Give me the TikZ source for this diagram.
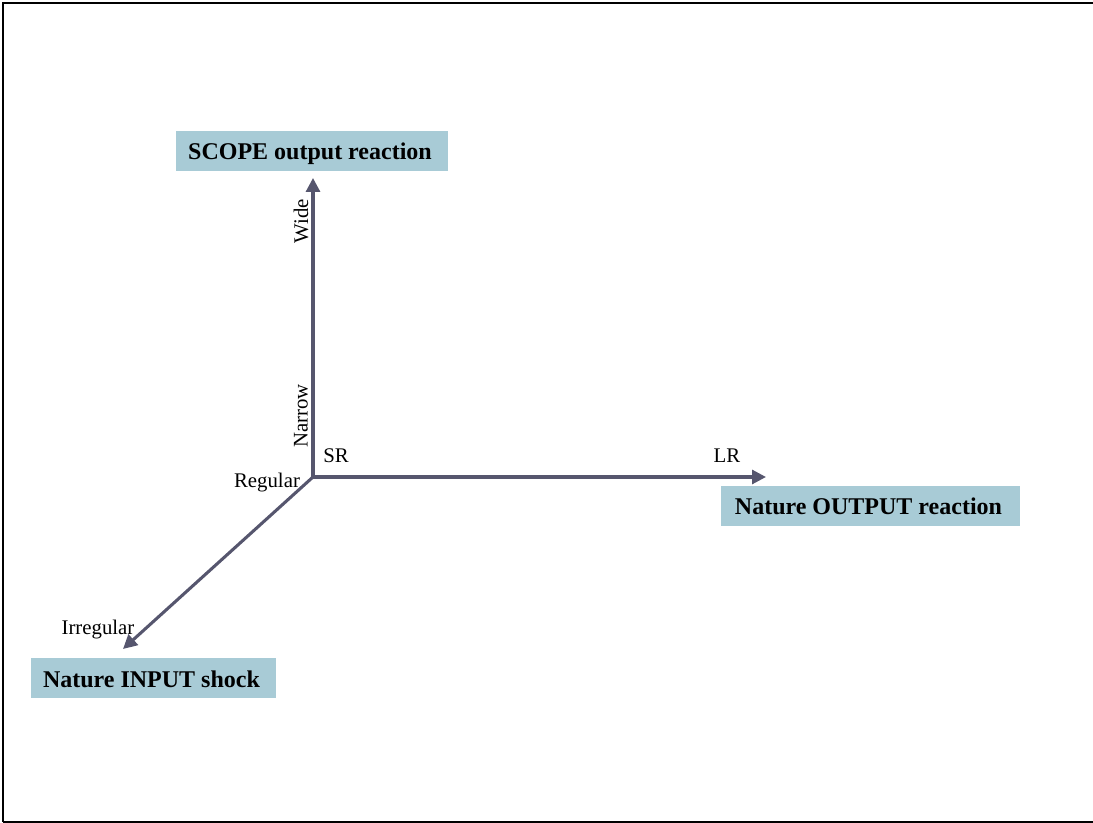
\documentclass[tikz,border=0pt]{standalone}
\usepackage{fontspec}
\setmainfont{Liberation Serif}
\usetikzlibrary{arrows.meta}
\definecolor{boxblue}{HTML}{A8CBD6}
\definecolor{axiscol}{HTML}{56566E}
\tikzset{
  titlebox/.style={fill=boxblue, draw=none, minimum height=30pt, inner sep=0pt,
    text height=15pt, text depth=1.5pt,
    font=\fontsize{18}{21}\selectfont\bfseries, text=black},
  axis/.style={draw=axiscol, line width=2.3pt,
    -{Triangle[length=10.5pt,width=10.5pt]}},
  lbl/.style={font=\fontsize{15.6}{18}\selectfont, text=black, inner sep=0pt},
  frameline/.style={draw=black, line width=1.5pt}
}
\begin{document}
\begin{tikzpicture}[x=0.75pt,y=-0.75pt]
\useasboundingbox (0,0) rectangle (1093,823);
\draw[frameline] (3,822) -- (3,3) -- (1093,3);
\draw[frameline] (3,822) -- (1093,822);

\node[titlebox, minimum width=204pt] (scope) at (312,151) {\hspace*{-3pt}SCOPE output reaction};
\node[titlebox, minimum width=224.25pt] (nout) at (870.5,506) {\hspace*{-3pt}Nature OUTPUT reaction};
\node[titlebox, minimum width=183.75pt] (nin) at (153.5,678) {\hspace*{-3pt}Nature INPUT shock};

\coordinate (O) at (313,477);
\coordinate (tipV) at (313,178);
\coordinate (tipH) at (766,477);
\coordinate (tipD) at (123,649);

\draw[axis] (O) -- (tipV);
\draw[axis] (O) -- (tipH);
\draw[axis] (O) -- (tipD);

\node[lbl, rotate=90] (wide) at (301,221) {Wide};
\node[lbl, rotate=90] (narrow) at (301,416) {Narrow};
\node[lbl] (sr) at (336,456) {SR};
\node[lbl] (lr) at (727,456) {LR};
\node[lbl] (regular) at (267,483) {Regular};
\node[lbl] (irregular) at (98,630) {Irregular};
\end{tikzpicture}
\end{document}
